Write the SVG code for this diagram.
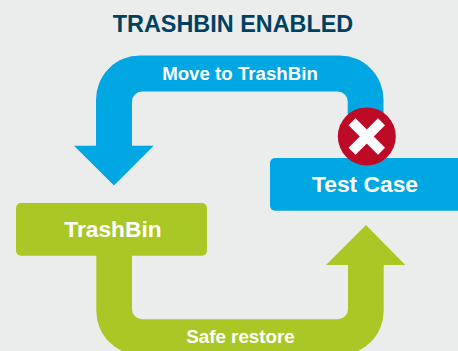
<svg xmlns="http://www.w3.org/2000/svg" width="458" height="351" viewBox="0 0 458 351">
<style>
.t{font-family:"Liberation Sans",Arial,sans-serif;font-weight:700;text-anchor:middle}
.w{fill:#fff}
.b{fill:#00a7e3}
.g{fill:#a9c825}
</style>
<rect width="458" height="351" fill="#ebeded"/>
<text class="t" x="233" y="31.500" font-size="23.400" fill="#004161">TRASHBIN ENABLED</text>
<g id="connectors">
<g id="move-to-trashbin">
<path class="b" d="M383.500 140V99.500A44 44 0 0 0 339.500 55.500H140A44 44 0 0 0 96 99.500V145.700H74L114 185.500L153.700 145.700H132V101.500A10 10 0 0 1 142 91.500H337.700A10 10 0 0 1 347.700 101.500V140Z"/>
<text class="t w" x="240" y="80" font-size="18.700">Move to TrashBin</text>
</g>
<g id="safe-restore">
<path class="g" d="M96.300 250V311A44 44 0 0 0 140.300 355H339.700A44 44 0 0 0 383.700 311V265H405.300L366 225L326 265H348V309.300A10 10 0 0 1 338 319.300H142A10 10 0 0 1 132 309.300V250Z"/>
<text class="t w" x="240.500" y="343" font-size="18.800">Safe restore</text>
</g>
</g>
<g id="test-case">
<rect class="b" x="270" y="158" width="200" height="52.700" rx="5"/>
<text class="t w" x="365" y="191.500" font-size="22.800">Test Case</text>
</g>
<g id="trashbin">
<rect class="g" x="16" y="203" width="191" height="52.700" rx="5"/>
<text class="t w" x="113" y="236.500" font-size="22.800">TrashBin</text>
</g>
<g id="blocked">
<circle cx="366.800" cy="136.400" r="29" fill="#bd0a27"/>
<path fill="#fff" d="M355.500 118.300L366.800 129.600L378 118.300L385 125.300L373.800 136.500L385 147.700L378 154.700L366.800 143.500L355.500 154.700L348.500 147.700L359.800 136.500L348.500 125.300Z"/>
</g>
</svg>
